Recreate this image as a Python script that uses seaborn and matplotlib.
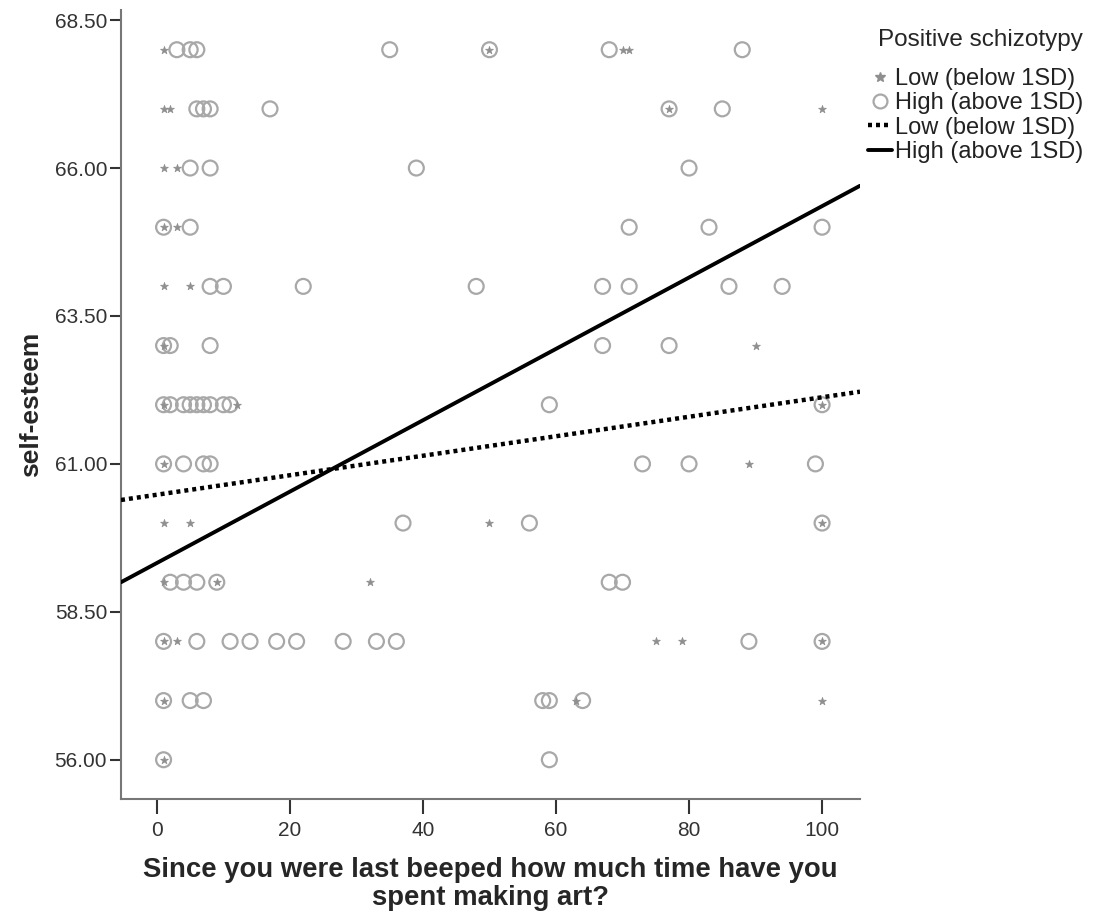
import numpy as np
import pandas as pd
import seaborn as sns
import matplotlib.pyplot as plt
from matplotlib.lines import Line2D

# scatter data: (art time, self-esteem)
low_x = [1, 50, 70, 71,
         1, 2, 77, 100,
         1, 3,
         1, 3,
         1, 5,
         1, 90,
         1, 12, 100,
         1, 89,
         1, 5, 50, 100,
         1, 9, 32,
         1, 3, 75, 79, 100,
         1, 63, 100,
         1]
low_y = [68, 68, 68, 68,
         67, 67, 67, 67,
         66, 66,
         65, 65,
         64, 64,
         63, 63,
         62, 62, 62,
         61, 61,
         60, 60, 60, 60,
         59, 59, 59,
         58, 58, 58, 58, 58,
         57, 57, 57,
         56]

high_x = [3, 5, 6, 35, 50, 68, 88,
          6, 7, 8, 17, 77, 85,
          5, 8, 39, 80,
          1, 5, 71, 83, 100,
          8, 10, 22, 48, 67, 71, 86, 94,
          1, 2, 8, 67, 77,
          1, 2, 4, 5, 6, 7, 8, 10, 11, 59, 100,
          1, 4, 7, 8, 73, 80, 99,
          37, 56, 100,
          2, 4, 6, 9, 68, 70,
          1, 6, 11, 14, 18, 21, 28, 33, 36, 89, 100,
          1, 5, 7, 58, 59, 64,
          1, 59]
high_y = [68] * 7 + [67] * 6 + [66] * 4 + [65] * 5 + [64] * 8 + [63] * 5 + \
         [62] * 11 + [61] * 7 + [60] * 3 + [59] * 6 + [58] * 11 + [57] * 6 + [56] * 2

# fit lines, end points read at the axis edges
line_x = [-5.4, 105.7]
low_fit_y = [60.39, 62.22]
high_fit_y = [59.0, 65.7]

low_df = pd.DataFrame({'art': low_x, 'esteem': low_y})
high_df = pd.DataFrame({'art': high_x, 'esteem': high_y})
fit_df = pd.DataFrame({'art': line_x * 2,
                       'esteem': low_fit_y + high_fit_y,
                       'group': ['Low'] * 2 + ['High'] * 2})

sns.set_style("white")
plt.rcParams['font.family'] = ['Liberation Sans', 'DejaVu Sans']

fig = plt.figure(figsize=(10.94, 9.15), dpi=100)
ax = fig.add_axes([0.1106, 0.127, 0.6755, 0.862])

sns.scatterplot(ax=ax, data=high_df, x='art', y='esteem', marker='o', s=115,
                facecolor='none', edgecolor='#a8a8a8', linewidth=1.6, zorder=2)
sns.scatterplot(ax=ax, data=low_df, x='art', y='esteem', marker='*', s=35,
                color='#8f8f8f', edgecolor='#8f8f8f', linewidth=0.5, zorder=3)
sns.lineplot(ax=ax, data=fit_df[fit_df['group'] == 'Low'], x='art', y='esteem',
             color='black', linewidth=3.2, linestyle=(0, (0.9, 0.9)), zorder=4)
sns.lineplot(ax=ax, data=fit_df[fit_df['group'] == 'High'], x='art', y='esteem',
             color='black', linewidth=2.8, zorder=4)

ax.set_xlim(-5.4, 105.7)
ax.set_ylim(55.34, 68.67)
ax.set_xticks([0, 20, 40, 60, 80, 100])
ax.set_yticks([56.0, 58.5, 61.0, 63.5, 66.0, 68.5])
ax.set_yticklabels(['%.2f' % v for v in [56.0, 58.5, 61.0, 63.5, 66.0, 68.5]])
ax.tick_params(axis='both', labelsize=15, colors='#333333', width=1.5,
               direction='out', bottom=True, left=True)
ax.tick_params(axis='x', length=11, pad=5)
ax.tick_params(axis='y', length=8, pad=2)
for side in ['top', 'right']:
    ax.spines[side].set_visible(False)
for side in ['left', 'bottom']:
    ax.spines[side].set_color('#777777')
    ax.spines[side].set_linewidth(1.5)

ax.set_ylabel('self-esteem', fontsize=19, fontweight='bold', labelpad=8)
ax.set_xlabel('Since you were last beeped how much time have you\nspent making art?',
              fontsize=19.8, fontweight='bold', labelpad=12, linespacing=1.1)

handles = [
    Line2D([], [], marker='*', linestyle='none', color='#8f8f8f', markersize=7),
    Line2D([], [], marker='o', linestyle='none', markerfacecolor='none',
           markeredgecolor='#a8a8a8', markeredgewidth=1.6, markersize=10),
    Line2D([], [], color='black', linewidth=3.2, linestyle=(0, (0.9, 0.9))),
    Line2D([], [], color='black', linewidth=2.8),
]
labels = ['Low (below 1SD)', 'High (above 1SD)', 'Low (below 1SD)', 'High (above 1SD)']
leg = fig.legend(handles, labels, title='Positive schizotypy', loc='upper left',
                 bbox_to_anchor=(0.793, 0.968), frameon=False, fontsize=17,
                 title_fontsize=17.5, handlelength=1.05, handletextpad=0.1,
                 labelspacing=0.1, borderaxespad=0, borderpad=0)
leg._legend_box.align = 'right'
leg._legend_box.sep = 12
for t in leg.get_texts():
    t.set_color('#222222')

fig.savefig('out.png', dpi=100)
